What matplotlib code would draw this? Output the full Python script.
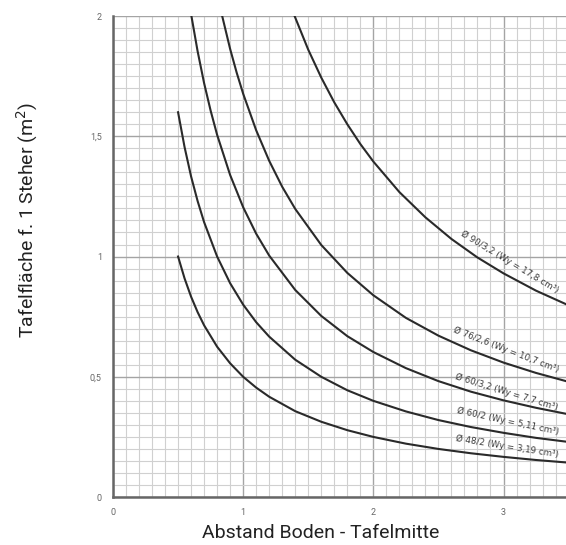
import numpy as np
import matplotlib
matplotlib.use("Agg")
import matplotlib.pyplot as plt
from matplotlib.ticker import MultipleLocator, FixedLocator

# Werte (Abstand in m, Fläche in m²)
x_48_2 = [0.5, 0.55, 0.6, 0.65, 0.7, 0.8, 0.9, 1.0, 1.1, 1.2, 1.4, 1.6, 1.8, 2.0, 2.25, 2.5, 2.75, 3.0, 3.25, 3.5]
y_48_2 = [1.0, 0.909, 0.833, 0.769, 0.714, 0.625, 0.556, 0.5, 0.455, 0.417, 0.357, 0.313, 0.278, 0.25, 0.222, 0.2, 0.182, 0.167, 0.154, 0.143]

x_60_2 = [0.5, 0.55, 0.6, 0.65, 0.7, 0.8, 0.9, 1.0, 1.1, 1.2, 1.4, 1.6, 1.8, 2.0, 2.25, 2.5, 2.75, 3.0, 3.25, 3.5]
y_60_2 = [1.6, 1.455, 1.333, 1.231, 1.143, 1.0, 0.889, 0.8, 0.727, 0.667, 0.571, 0.5, 0.444, 0.4, 0.356, 0.32, 0.291, 0.267, 0.246, 0.229]

x_60_32 = [0.6, 0.65, 0.7, 0.75, 0.8, 0.9, 1.0, 1.1, 1.2, 1.4, 1.6, 1.8, 2.0, 2.25, 2.5, 2.75, 3.0, 3.25, 3.5]
y_60_32 = [2.008, 1.854, 1.721, 1.607, 1.506, 1.339, 1.205, 1.095, 1.004, 0.861, 0.753, 0.669, 0.603, 0.536, 0.482, 0.438, 0.402, 0.371, 0.344]

x_76_26 = [0.83, 0.9, 0.95, 1.0, 1.1, 1.2, 1.3, 1.4, 1.6, 1.8, 2.0, 2.25, 2.5, 2.75, 3.0, 3.25, 3.5]
y_76_26 = [2.02, 1.863, 1.765, 1.677, 1.525, 1.398, 1.29, 1.198, 1.048, 0.932, 0.839, 0.745, 0.671, 0.61, 0.559, 0.516, 0.479]

x_90_32 = [1.39, 1.5, 1.6, 1.7, 1.8, 1.9, 2.0, 2.2, 2.4, 2.6, 2.8, 3.0, 3.25, 3.5]
y_90_32 = [2.007, 1.86, 1.744, 1.641, 1.55, 1.468, 1.395, 1.268, 1.163, 1.073, 0.996, 0.93, 0.858, 0.797]

series = [
    (x_48_2, y_48_2, "Ø 48/2 (Wy = 3,19 cm³)", 3.03, 0.209, -9),
    (x_60_2, y_60_2, "Ø 60/2 (Wy = 5,11 cm³)", 3.03, 0.315, -12),
    (x_60_32, y_60_32, "Ø 60/3,2 (Wy = 7,7 cm³)", 3.02, 0.435, -17),
    (x_76_26, y_76_26, "Ø 76/2,6 (Wy = 10,7 cm³)", 3.02, 0.614, -21),
    (x_90_32, y_90_32, "Ø 90/3,2 (Wy = 17,8 cm³)", 3.05, 0.975, -31),
]

x_ticks = [0, 1, 2, 3]
y_ticks = [0, 0.5, 1, 1.5, 2]
y_ticklabels = ["0", "0,5", "1", "1,5", "2"]

plt.rcParams["font.family"] = ["Roboto", "DejaVu Sans"]

fig = plt.figure(figsize=(5.66, 5.45), dpi=100)
ax = fig.add_axes([0.1996, 0.088, 0.8004, 0.8826])

ax.set_xlim(0, 3.48)
ax.set_ylim(0, 2)

ax.xaxis.set_major_locator(FixedLocator(x_ticks))
ax.yaxis.set_major_locator(FixedLocator(y_ticks))
ax.xaxis.set_minor_locator(MultipleLocator(0.1))
ax.yaxis.set_minor_locator(MultipleLocator(0.05))
ax.grid(which="minor", color="#d0d0d0", linewidth=0.8)
ax.grid(which="major", color="#a4a4a4", linewidth=1.0)
ax.set_axisbelow(True)

for xs, ys, label, lx, ly, rot in series:
    ax.plot(xs, ys, color="#2a2a2a", linewidth=1.5, clip_on=True)
    ax.text(lx, ly, label, rotation=rot, rotation_mode="anchor", ha="center", va="center",
            fontsize=6.3, color="#3a3a3a", family=["DejaVu Sans"])

ax.set_yticklabels(y_ticklabels)
ax.tick_params(which="both", length=0, labelsize=6.5, colors="#666666", pad=8)

for side in ["top", "right"]:
    ax.spines[side].set_visible(False)
for side in ["left", "bottom"]:
    ax.spines[side].set_color("#666666")
    ax.spines[side].set_linewidth(1.8)

ax.set_xlabel("Abstand Boden - Tafelmitte", fontsize=14, color="#222222")
ax.xaxis.set_label_coords(0.459, -0.056)
ax.set_ylabel("Tafelfläche f. 1 Steher (m$^2$)", fontsize=14, color="#222222")
ax.yaxis.set_label_coords(-0.161, 0.576)

fig.savefig("out.png", dpi=100)
